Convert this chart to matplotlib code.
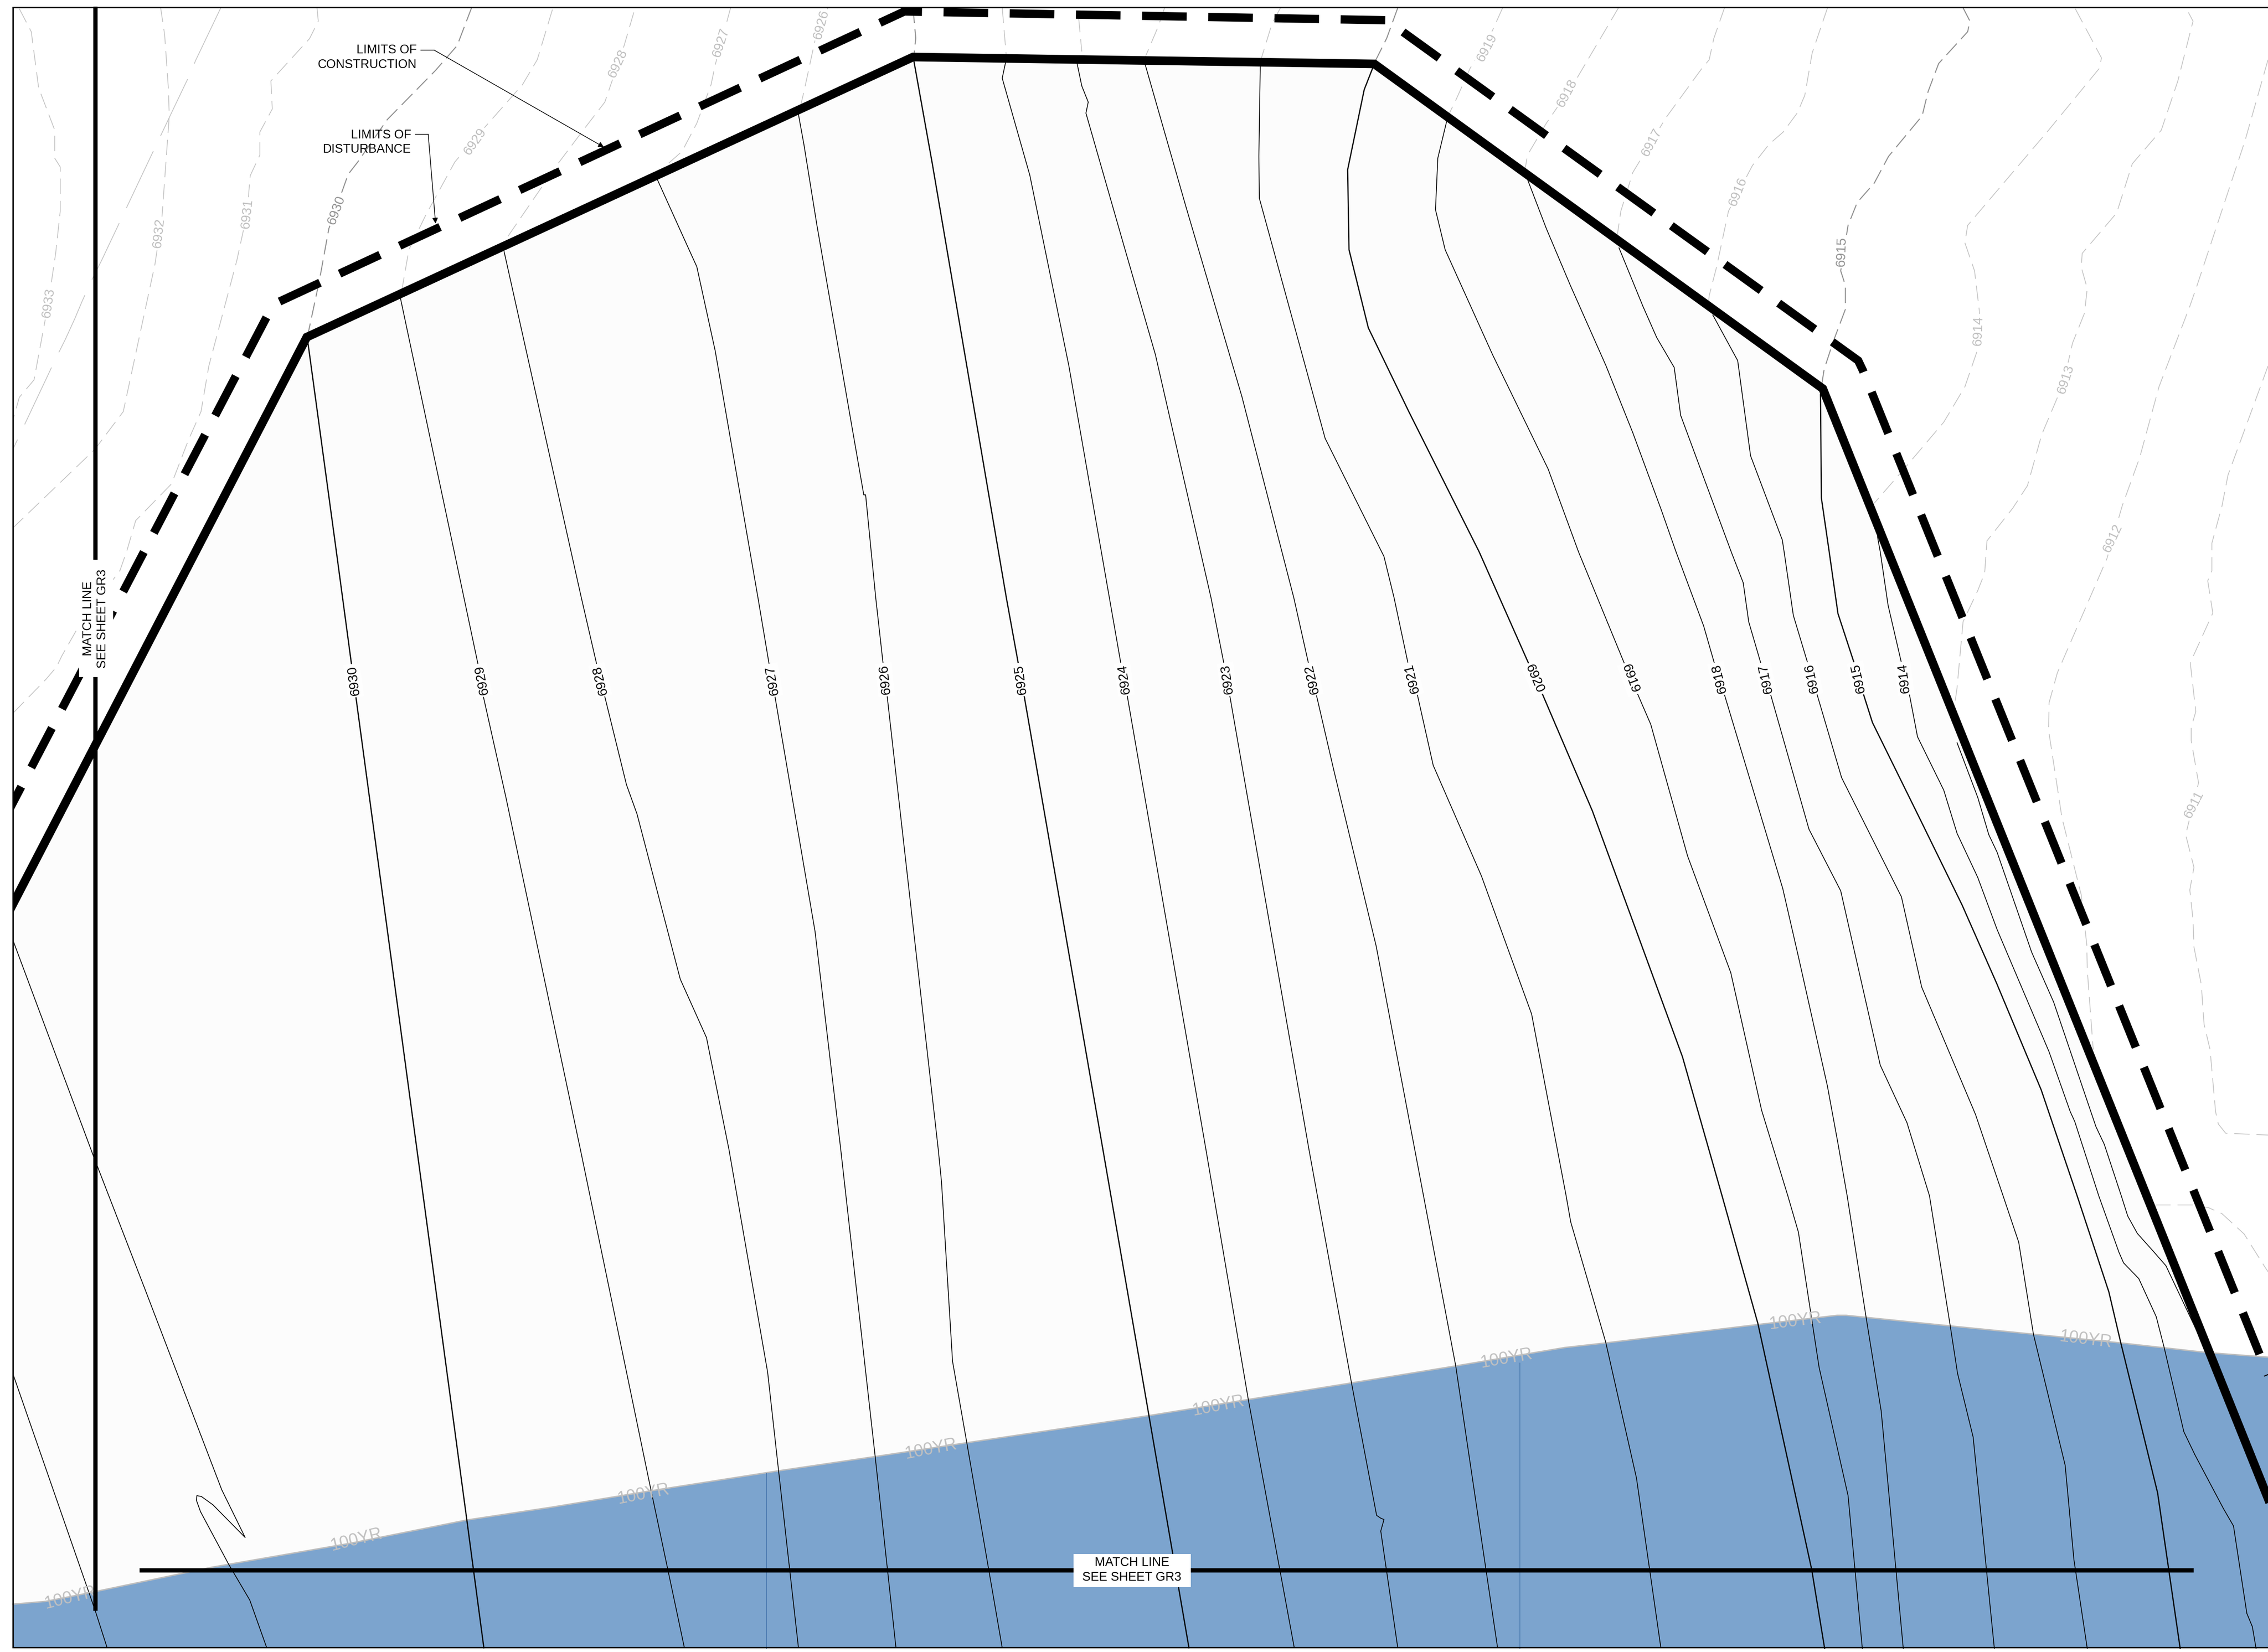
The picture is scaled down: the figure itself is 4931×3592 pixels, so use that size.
import matplotlib
matplotlib.use('Agg')
import matplotlib.pyplot as plt
from matplotlib.patches import Polygon, Rectangle

plt.rcParams['font.family'] = ['Liberation Sans', 'DejaVu Sans']

# everything, in sheet pixels (x, y down)
sheet_w = 4931
sheet_h = 3592
frame_l, frame_t, frame_b = 28, 16, 3582

limit_construction = [(0, 2020), (667, 733), (1985, 124), (2988, 139), (3963, 845), (4931, 3258)]
limit_disturbance = [(0, 1799), (594, 662), (1966, 25), (3015, 44), (4040, 784), (4050, 805), (4931, 2990)]
floodplain = [(28, 3488), (99, 3482), (191, 3464), (459, 3408), (765, 3355), (1015, 3305), (1200, 3277),
              (1412, 3242), (1693, 3198), (1903, 3167), (2102, 3137), (2498, 3078), (2714, 3043),
              (2938, 3007), (3165, 2970), (3402, 2930), (3491, 2920), (3822, 2880), (3994, 2860),
              (4014, 2860), (4240, 2883), (4421, 2901), (4611, 2920), (4799, 2941), (4931, 2951)]
match_v = [(207, 14), (207, 3502)]
match_h = [(303, 3414), (4769, 3414)]

# proposed contours, inside the limits
prop_6930 = [(668, 734), (731, 1197), (769, 1480), (947, 2800), (1015, 3305), (1052, 3583)]
prop_6929 = [(871, 650), (987, 1197), (1039, 1443), (1051, 1515), (1100, 1734), (1262, 2500), (1412, 3224), (1488, 3583)]
prop_6928 = [(1096, 547), (1241, 1197), (1264, 1300), (1297, 1443), (1315, 1515), (1362, 1706), (1385, 1770),
             (1479, 2129), (1536, 2256), (1585, 2500), (1669, 2984), (1693, 3200), (1736, 3583)]
prop_6927 = [(1429, 390), (1500, 547), (1515, 580), (1555, 763), (1648, 1300), (1672, 1443), (1685, 1515),
             (1772, 2025), (1828, 2500), (1903, 3169), (1948, 3583)]
prop_6926 = [(1736, 249), (1748, 315), (1776, 489), (1878, 1076), (1882, 1076), (1904, 1300), (1920, 1443),
             (1929, 1515), (2040, 2500), (2047, 2570), (2071, 2960), (2102, 3137), (2179, 3583)]
prop_6925 = [(1987, 133), (2027, 356), (2188, 1300), (2214, 1443), (2227, 1515), (2398, 2500), (2498, 3078), (2585, 3583)]
prop_6924 = [(2186, 137), (2179, 170), (2239, 381), (2324, 796), (2412, 1300), (2437, 1443), (2451, 1514),
             (2622, 2500), (2714, 3043), (2814, 3583)]
prop_6923 = [(2342, 139), (2352, 187), (2366, 222), (2361, 246), (2445, 539), (2512, 771), (2633, 1300), (2661, 1443),
             (2674, 1514), (2846, 2500), (2938, 3005), (2993, 3295), (3002, 3301), (3009, 3304), (3002, 3329), (3039, 3583)]
prop_6922 = [(2490, 141), (2578, 448), (2700, 862), (2813, 1300), (2845, 1443), (2862, 1511), (2900, 1675),
             (2992, 2057), (3076, 2500), (3165, 2970), (3256, 3583)]
prop_6921 = [(2740, 145), (2737, 340), (2738, 431), (2881, 953), (3009, 1210), (3031, 1300), (3061, 1441), (3081, 1508),
             (3116, 1664), (3221, 1905), (3330, 2205), (3405, 2600), (3415, 2657), (3491, 2918), (3558, 3214), (3611, 3583)]
prop_6920 = [(2984, 149), (2966, 195), (2930, 369), (2933, 543), (2975, 713), (3063, 895), (3216, 1200), (3325, 1446),
             (3353, 1508), (3462, 1763), (3658, 2298), (3744, 2600), (3822, 2878), (3939, 3413), (3967, 3584)]
prop_6919 = [(3145, 265), (3126, 344), (3121, 456), (3142, 543), (3245, 771), (3366, 1020), (3432, 1200), (3531, 1441),
             (3560, 1508), (3589, 1575), (3669, 1861), (3763, 2115), (3830, 2414), (3887, 2600), (3910, 2679),
             (3955, 2973), (4018, 3252), (4049, 3584)]
prop_6918 = [(3321, 390), (3362, 497), (3414, 620), (3492, 796), (3550, 941), (3612, 1109), (3644, 1200), (3704, 1361),
             (3727, 1441), (3750, 1513), (3876, 1932), (3910, 2080), (3973, 2361), (3996, 2486), (4016, 2600),
             (4057, 2863), (4090, 3068), (4138, 3584)]
prop_6917 = [(3520, 539), (3572, 666), (3602, 734), (3640, 799), (3654, 903), (3764, 1200), (3790, 1267), (3802, 1352),
             (3828, 1441), (3849, 1508), (3933, 1803), (4002, 1937), (4088, 2316), (4146, 2441), (4195, 2600),
             (4240, 2882), (4256, 2986), (4290, 3125), (4336, 3584)]
prop_6916 = [(3724, 685), (3778, 784), (3806, 991), (3875, 1174), (3879, 1200), (3899, 1338), (3930, 1441), (3950, 1508),
             (4004, 1691), (4134, 1950), (4178, 2146), (4295, 2423), (4355, 2600), (4389, 2701), (4421, 2901),
             (4490, 3186), (4509, 3391), (4538, 3584)]
prop_6915 = [(3958, 857), (3960, 1083), (3977, 1200), (3996, 1334), (4031, 1441), (4051, 1508), (4071, 1571), (4174, 1780),
             (4266, 1968), (4341, 2138), (4438, 2370), (4516, 2600), (4585, 2809), (4611, 2920), (4691, 3246), (4740, 3584)]
prop_6914 = [(4082, 1167), (4088, 1200), (4105, 1316), (4134, 1441), (4151, 1508), (4169, 1602), (4226, 1718), (4255, 1812),
             (4300, 1908), (4342, 2021), (4455, 2287), (4501, 2417), (4511, 2439), (4563, 2600), (4607, 2723), (4617, 2746),
             (4650, 2780), (4688, 2863), (4705, 2929), (4748, 3113), (4772, 3163), (4834, 3280), (4856, 3318), (4885, 3508),
             (4897, 3537), (4905, 3584)]
prop_edge = [(4255, 1615), (4300, 1734), (4324, 1815), (4342, 1853), (4417, 2070), (4465, 2179), (4557, 2450), (4575, 2488),
             (4612, 2600), (4626, 2644), (4647, 2682), (4681, 2720), (4709, 2752), (4799, 2942), (4811, 2980), (4862, 3087)]
prop_west_a = [(28, 2987), (207, 3502), (233, 3583)]
prop_west_b = [(28, 2044), (204, 2516), (314, 2800), (482, 3239), (533, 3343), (463, 3272), (438, 3254), (428, 3252),
               (427, 3262), (436, 3287), (497, 3401), (543, 3479), (580, 3583)]
heavy_contours = [prop_6930, prop_6925, prop_6920, prop_6915]
thin_contours = [prop_6929, prop_6928, prop_6927, prop_6926, prop_6924, prop_6923, prop_6922, prop_6921, prop_6919,
                 prop_6918, prop_6917, prop_6916, prop_6914, prop_edge, prop_west_a, prop_west_b]
flood_ticks = [[(1666, 3203), (1666, 3584)], [(3304, 2963), (3304, 3584)]]

# existing contours, outside the limits
exist_6933 = [(42, 19), (68, 69), (84, 191), (119, 283), (119, 344), (131, 363), (131, 459), (121, 551), (105, 659), (74, 826), (42, 864), (29, 910)]
exist_6932 = [(349, 15), (358, 76), (366, 191), (368, 252), (352, 474), (337, 574), (268, 895), (210, 972), (200, 983), (29, 1147)]
exist_6931 = [(689, 15), (692, 46), (673, 84), (589, 176), (592, 237), (565, 287), (565, 337), (544, 382), (537, 465), (515, 566),
              (454, 796), (437, 895), (410, 956), (373, 1052), (295, 1132), (276, 1197), (269, 1217), (261, 1240), (172, 1360),
              (134, 1427), (123, 1450), (100, 1477), (29, 1550)]
exist_6930 = [(1026, 15), (994, 99), (947, 153), (842, 260), (778, 352), (757, 379), (715, 497), (694, 612), (668, 734)]
exist_6929 = [(1201, 21), (1168, 130), (1136, 184), (1052, 279), (989, 352), (926, 467), (889, 543), (873, 635)]
exist_6928 = [(1378, 27), (1357, 99), (1315, 222), (1268, 283), (1210, 360), (1105, 513), (1094, 536)]
exist_6927 = [(1589, 15), (1555, 141), (1546, 184), (1515, 268), (1483, 329), (1431, 375)]
exist_6926 = [(1800, 17), (1773, 83), (1748, 199), (1736, 249)]
exist_6925 = [(1985, 17), (1991, 83), (1987, 120)]
exist_6924 = [(2179, 17), (2188, 124)]
exist_6923 = [(2345, 37), (2352, 112)]
exist_6922 = [(2532, 17), (2518, 58), (2490, 124)]
exist_6921 = [(2784, 17), (2766, 50), (2742, 128)]
exist_6920 = [(3039, 17), (3015, 83), (2990, 133)]
exist_6919 = [(3267, 17), (3245, 66), (3196, 149), (3166, 216), (3142, 265)]
exist_6918 = [(3520, 15), (3425, 176), (3362, 268), (3321, 337), (3316, 367)]
exist_6917 = [(3750, 15), (3726, 84), (3716, 130), (3700, 149), (3622, 256), (3550, 375), (3524, 459), (3516, 513)]
exist_6916 = [(3974, 15), (3940, 115), (3924, 207), (3908, 245), (3877, 287), (3846, 314), (3810, 360), (3758, 459), (3732, 581), (3716, 643), (3714, 666)]
exist_6915 = [(4267, 15), (4283, 46), (4278, 69), (4215, 138), (4192, 199), (4179, 252), (4106, 340), (4075, 398), (4038, 440),
              (4018, 490), (4002, 589), (4012, 620), (4012, 673), (3986, 742), (3966, 803), (3960, 841)]
exist_6914 = [(4512, 19), (4569, 126), (4564, 149), (4454, 283), (4278, 490), (4272, 528), (4293, 589), (4304, 681), (4298, 765),
              (4272, 841), (4226, 918), (4142, 1017), (4075, 1094)]
exist_6913 = [(4758, 27), (4768, 46), (4735, 176), (4699, 283), (4636, 356), (4602, 463), (4527, 551), (4525, 581), (4538, 627),
              (4532, 681), (4506, 746), (4486, 834), (4439, 945), (4408, 1056), (4376, 1105), (4320, 1176), (4315, 1246),
              (4300, 1284), (4268, 1352), (4255, 1495), (4249, 1539)]
exist_6912 = [(4931, 130), (4881, 306), (4777, 620), (4761, 666), (4694, 841), (4652, 995), (4614, 1100), (4581, 1214), (4473, 1463),
              (4455, 1528), (4454, 1588), (4483, 1778), (4525, 1946), (4537, 2054), (4538, 2108), (4551, 2282)]
exist_6911 = [(4931, 796), (4844, 1033), (4831, 1100), (4809, 1181), (4809, 1241), (4800, 1263), (4811, 1333), (4762, 1441), (4774, 1547),
              (4764, 1582), (4764, 1610), (4780, 1702), (4752, 1815), (4770, 1886), (4761, 1935), (4768, 2000), (4770, 2059),
              (4786, 2141), (4792, 2227), (4805, 2282), (4817, 2417), (4823, 2444), (4839, 2464), (4931, 2468)]
exist_6910 = [(4686, 2620), (4768, 2620), (4802, 2626), (4831, 2639), (4879, 2683), (4923, 2753), (4931, 2765)]
exist_long = [(481, 15), (426, 130), (408, 172), (384, 222), (326, 344), (221, 566), (202, 604), (179, 654), (163, 692), (142, 738), (121, 780), (29, 975)]
pale_contours = [exist_6933, exist_6932, exist_6931, exist_6929, exist_6928, exist_6927, exist_6926, exist_6924, exist_6923,
                 exist_6922, exist_6921, exist_6919, exist_6918, exist_6917, exist_6916, exist_6914, exist_6913, exist_6912,
                 exist_6911, exist_6910]
dark_contours = [exist_6930, exist_6925, exist_6920, exist_6915]

prop_labels = ['6930', '6929', '6928', '6927', '6926', '6925', '6924', '6923', '6922', '6921', '6920', '6919', '6918', '6917', '6916', '6915', '6914']
prop_label_x = [769, 1047, 1305, 1679, 1924, 2219, 2444, 2668, 2852, 3070, 3337, 3545, 3738, 3839, 3939, 4040, 4140]
prop_label_y = [1480, 1479, 1479, 1479, 1478, 1478, 1477, 1477, 1477, 1476, 1476, 1476, 1476, 1476, 1475, 1475, 1475]
prop_label_rot = [97.7, 101, 104, 100, 96, 98, 98, 98, 103, 104, -67, -70, 104, 102, 102, 102, 97]

exist_labels = ['6933', '6932', '6931', '6930', '6929', '6928', '6927', '6926', '6919', '6918', '6917', '6916', '6915', '6914', '6913', '6912', '6911']
exist_label_x = [105, 345, 537, 731, 1033, 1343, 1567, 1785, 3233, 3407, 3591, 3778, 4004, 4301, 4491, 4593, 4770]
exist_label_y = [659, 507, 465, 457, 308, 138, 93, 54, 104, 203, 310, 417, 547, 719, 825, 1170, 1750]
exist_label_rot = [82, 84, 84, 70, 55, 65, 72, 75, 62, 62, 62, 68, 88, 88, 72, 65, 63]

flood_label_x = [152, 774, 1399, 2024, 2649, 3275, 3903, 4534]
flood_label_y = [3474, 3348, 3249, 3151, 3057, 2954, 2873, 2913]
flood_label_rot = [14, 14, 11, 11, 11, 10, 7, -7]

fig = plt.figure(figsize=(sheet_w / 100, sheet_h / 100), dpi=100)
ax = fig.add_axes([0, 0, 1, 1])
ax.set_xlim(0, sheet_w)
ax.set_ylim(sheet_h, 0)
ax.axis('off')

clip = Rectangle((frame_l, frame_t), sheet_w, frame_b - frame_t, transform=ax.transData)


def xy(pts):
    return [p[0] for p in pts], [p[1] for p in pts]


# fills
inner = limit_construction[1:] + [(sheet_w, frame_b), (frame_l, frame_b), (frame_l, 1966)]
ax.add_patch(Polygon(inner, closed=True, fc='#fcfcfc', ec='none', zorder=1))
flood = floodplain + [(sheet_w, frame_b), (frame_l, frame_b)]
ax.add_patch(Polygon(flood, closed=True, fc='#7ca4ce', ec='none', zorder=2))
ax.plot(*xy(floodplain), color='#bdbdbd', lw=2.2, zorder=3)

for pts in pale_contours:
    ax.plot(*xy(pts), color='#c2c2c2', lw=1.2, ls=(0, (20, 9)), zorder=3)
for pts in dark_contours:
    ax.plot(*xy(pts), color='#909090', lw=1.6, ls=(0, (15, 6)), zorder=3)
ax.plot(*xy(exist_long), color='#c2c2c2', lw=1.2, ls=(0, (82, 22)), zorder=3)

for pts in thin_contours:
    ax.plot(*xy(pts), color='black', lw=1.25, zorder=4)
for pts in heavy_contours:
    ax.plot(*xy(pts), color='black', lw=1.9, zorder=4)
for pts in flood_ticks:
    ax.plot(*xy(pts), color='#3f70a8', lw=0.9, zorder=4)

# limits
line, = ax.plot(*xy(limit_construction), color='black', lw=13.5, solid_joinstyle='miter', zorder=6)
line.set_clip_path(clip)
line, = ax.plot(*xy(limit_disturbance), color='black', lw=13, ls=(7.81, (5.37, 2.6)), dash_joinstyle='miter', zorder=6)
line.set_clip_path(clip)

# contour labels
for name, x, y, r in zip(prop_labels, prop_label_x, prop_label_y, prop_label_rot):
    ax.text(x, y, name, fontsize=21, color='black', rotation=r, rotation_mode='anchor', ha='center', va='center',
            bbox=dict(fc='#fefefe', ec='none', pad=3), zorder=5)
for name, x, y, r in zip(exist_labels, exist_label_x, exist_label_y, exist_label_rot):
    tone = '#909090' if name in ('6930', '6915') else '#bebebe'
    ax.text(x, y, name, fontsize=21, color=tone, rotation=r, rotation_mode='anchor', ha='center', va='center',
            bbox=dict(fc='white', ec='none', pad=3), zorder=3.5)
for x, y, r in zip(flood_label_x, flood_label_y, flood_label_rot):
    ax.text(x, y, '100YR', fontsize=27, family=['Liberation Sans Narrow', 'Liberation Sans'], color='#c0c0c0',
            rotation=r, rotation_mode='anchor', ha='center', va='center', zorder=5)

# match lines and their boxes
ax.plot(*xy(match_v), color='black', lw=6.8, solid_capstyle='butt', zorder=7)
ax.plot(*xy(match_h), color='black', lw=6.8, solid_capstyle='butt', zorder=7)
ax.add_patch(Rectangle((172, 1217), 74, 255, fc='white', ec='none', zorder=8))
ax.text(192, 1345, 'MATCH LINE', fontsize=19.5, rotation=90, ha='center', va='center', zorder=9)
ax.text(223, 1345, 'SEE SHEET GR3', fontsize=19.5, rotation=90, ha='center', va='center', zorder=9)
ax.add_patch(Rectangle((2334, 3379), 255, 72, fc='white', ec='none', zorder=8))
ax.text(2461, 3398, 'MATCH LINE', fontsize=19.5, ha='center', va='center', zorder=9)
ax.text(2461, 3430, 'SEE SHEET GR3', fontsize=19.5, ha='center', va='center', zorder=9)

# callouts
ax.text(906, 109, 'LIMITS OF', fontsize=19.3, ha='right', va='center', zorder=9)
ax.text(906, 141, 'CONSTRUCTION', fontsize=19.3, ha='right', va='center', zorder=9)
ax.text(894, 294, 'LIMITS OF', fontsize=19.3, ha='right', va='center', zorder=9)
ax.text(894, 325, 'DISTURBANCE', fontsize=19.3, ha='right', va='center', zorder=9)
ax.plot([915, 944], [109, 109], color='black', lw=1.1, zorder=9)
ax.plot([903, 931], [292, 292], color='black', lw=1.1, zorder=9)
arrow = dict(arrowstyle='-|>', color='black', lw=1.1, mutation_scale=18, shrinkA=0, shrinkB=0)
ax.annotate('', xy=(1313, 320), xytext=(944, 109), arrowprops=arrow, zorder=9)
ax.annotate('', xy=(947, 486), xytext=(931, 292), arrowprops=arrow, zorder=9)

# sheet frame, open on the right
ax.plot([sheet_w, frame_l, frame_l, sheet_w], [frame_t, frame_t, frame_b, frame_b], color='black', lw=2.2,
        solid_joinstyle='miter', zorder=10)

fig.savefig('out.png', dpi=100, facecolor='white')
